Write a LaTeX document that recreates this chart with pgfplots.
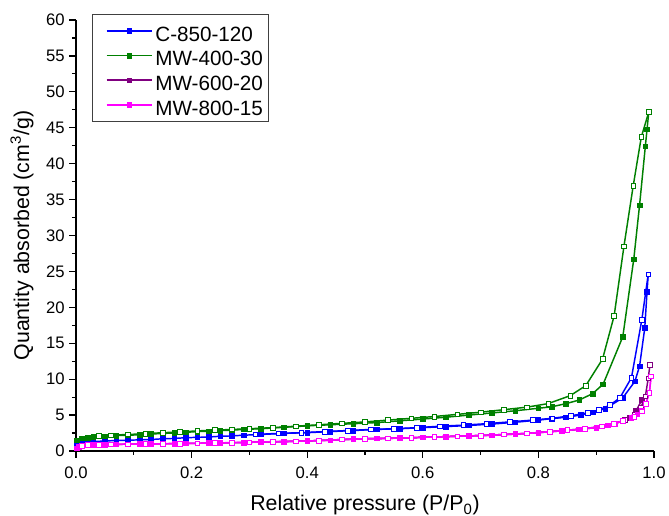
\documentclass[border=0pt]{standalone}
\usepackage{pgfplots}
\pgfplotsset{compat=1.18}
\usepackage{fontspec}
\setmainfont{Liberation Sans}
\definecolor{cblue}{RGB}{0,0,255}
\definecolor{cgreen}{RGB}{0,128,0}
\definecolor{cpurple}{RGB}{128,0,128}
\definecolor{cpink}{RGB}{255,0,255}
\begin{document}
\begin{tikzpicture}
\useasboundingbox (-57pt,-48.75pt) rectangle (444.75pt,338.25pt);
\begin{axis}[
  scale only axis,
  width=433.5pt, height=323.25pt,
  at={(0,0)}, anchor=south west,
  xmin=0, xmax=1, ymin=0, ymax=60,
  axis lines*=left,
  axis line style={line width=0.9pt},
  tick align=outside,
  tick style={line width=0.9pt, black},
  major tick length=5pt, minor tick length=3pt,
  xtick={0,0.2,0.4,0.6,0.8,1.0},
  ytick={0,5,...,60},
  minor x tick num=1, minor y tick num=1,
  xticklabel style={yshift=-3pt, /pgf/number format/.cd, fixed, fixed zerofill, precision=1, assume math mode=true},
  yticklabel style={/pgf/number format/assume math mode=true},
  ticklabel style={font=\fontsize{12.5}{14}\selectfont},
  xlabel={Relative pressure (P/P\textsubscript{0})},
  ylabel={Quantity absorbed (cm\textsuperscript{3}/g)},
  label style={font=\fontsize{16}{19}\selectfont},
  xlabel style={yshift=-6pt},
  ylabel style={yshift=2.5pt},
  every axis plot/.append style={line width=1.1pt, mark=square*, mark size=1.75pt},
  legend cell align=left,
  legend style={at={(axis description cs:0,1)}, anchor=north west, xshift=12pt, yshift=4.5pt,
    draw=black!75, line width=0.8pt, font=\fontsize{15.5}{18}\selectfont,
    inner xsep=2pt, inner ysep=3pt, row sep=0pt,
    nodes={inner xsep=2pt, inner ysep=1pt, text height=16pt, text depth=0.5pt}},
  legend image code/.code={\path (-8pt,0pt); \draw[mark repeat=2,mark phase=2,#1] plot coordinates {(0pt,0pt)(17pt,0pt)(34pt,0pt)};},
]
% C-850-120 adsorption
\addplot[color=cblue, mark options={fill=cblue, line width=0.5pt}] coordinates {
(0.001,0.8)(0.01,1.1)(0.02,1.25)(0.03,1.3)(0.05,1.4)(0.07,1.45)(0.09,1.5)(0.11,1.55)(0.13,1.6)(0.15,1.7)(0.17,1.75)(0.19,1.85)(0.21,1.9)(0.23,1.95)(0.25,2.05)(0.27,2.1)(0.29,2.2)(0.32,2.3)(0.36,2.45)(0.40,2.55)(0.44,2.7)(0.48,2.85)(0.52,3.0)(0.56,3.1)(0.60,3.25)(0.64,3.4)(0.68,3.55)(0.72,3.75)(0.76,4.0)(0.80,4.3)(0.823,4.5)(0.848,4.7)(0.873,5.0)(0.895,5.4)(0.916,5.9)(0.946,7.4)(0.967,9.7)(0.975,11.8)(0.984,17.1)(0.988,22.2)(0.990,24.6)};
\addlegendentry{C-850-120}
\addplot[color=cblue, mark options={fill=white, line width=0.5pt}, forget plot] coordinates {
(0.990,24.6)(0.979,18.3)(0.961,10.2)(0.941,7.4)(0.924,6.4)(0.904,5.7)(0.885,5.3)(0.856,4.9)(0.824,4.55)(0.79,4.3)(0.75,4.05)(0.71,3.8)(0.67,3.6)(0.63,3.45)(0.59,3.25)(0.55,3.1)(0.51,3.0)(0.47,2.85)(0.43,2.7)(0.39,2.55)(0.35,2.45)(0.31,2.3)};
% MW-400-30
\addplot[color=cgreen, mark options={fill=cgreen, line width=0.5pt}] coordinates {
(0.001,1.5)(0.01,1.75)(0.02,1.85)(0.03,1.95)(0.05,2.05)(0.07,2.15)(0.09,2.2)(0.11,2.25)(0.13,2.35)(0.15,2.45)(0.17,2.5)(0.19,2.6)(0.21,2.7)(0.23,2.75)(0.25,2.85)(0.27,2.9)(0.29,3.0)(0.32,3.1)(0.36,3.3)(0.40,3.5)(0.44,3.65)(0.48,3.8)(0.52,3.95)(0.56,4.2)(0.60,4.45)(0.64,4.7)(0.68,5.0)(0.72,5.3)(0.76,5.6)(0.80,5.95)(0.823,6.15)(0.848,6.6)(0.871,7.1)(0.894,8.0)(0.912,9.3)(0.946,15.9)(0.965,26.7)(0.975,34.2)(0.985,42.4)(0.988,44.8)(0.991,47.2)};
\addlegendentry{MW-400-30}
\addplot[color=cgreen, mark options={fill=white, line width=0.5pt}, forget plot] coordinates {
(0.991,47.2)(0.978,43.7)(0.964,36.9)(0.948,28.5)(0.931,18.8)(0.911,12.8)(0.882,9.1)(0.855,7.7)(0.817,6.6)(0.78,6.1)(0.74,5.75)(0.70,5.4)(0.66,5.1)(0.62,4.8)(0.58,4.55)(0.54,4.3)(0.50,4.05)(0.46,3.85)(0.42,3.65)(0.38,3.45)(0.34,3.25)(0.30,3.1)(0.27,3.0)(0.24,2.9)(0.21,2.8)(0.18,2.65)(0.15,2.55)(0.12,2.4)(0.09,2.3)(0.06,2.2)(0.04,2.1)};
% MW-600-20
\addplot[color=cpurple, mark options={fill=cpurple, line width=0.5pt}] coordinates {
(0.001,0.35)(0.005,0.55)(0.01,0.7)(0.02,0.8)(0.03,0.85)(0.05,0.9)(0.07,0.92)(0.09,0.95)(0.11,0.97)(0.13,1.0)(0.15,1.0)(0.17,1.02)(0.19,1.05)(0.21,1.07)(0.23,1.1)(0.25,1.12)(0.27,1.15)(0.29,1.18)(0.32,1.25)(0.36,1.3)(0.40,1.4)(0.44,1.5)(0.48,1.65)(0.52,1.75)(0.56,1.8)(0.60,1.9)(0.64,2.0)(0.68,2.1)(0.72,2.2)(0.76,2.35)(0.80,2.55)(0.84,2.8)(0.87,3.0)(0.90,3.25)(0.92,3.55)(0.933,3.8)(0.946,4.2)(0.958,4.6)(0.969,5.6)(0.979,7.1)};
\addlegendentry{MW-600-20}
\addplot[color=cpurple, mark options={fill=white, line width=0.5pt}, forget plot] coordinates {
(0.993,12.0)(0.990,10.1)(0.985,7.6)(0.977,6.0)(0.966,5.0)(0.950,4.3)(0.93,3.8)(0.91,3.45)(0.88,3.1)(0.85,2.9)(0.82,2.7)(0.78,2.45)(0.74,2.3)(0.70,2.15)(0.66,2.05)(0.62,1.95)(0.58,1.85)(0.54,1.75)(0.50,1.7)(0.46,1.6)(0.42,1.45)(0.38,1.35)(0.34,1.3)(0.30,1.2)};
% MW-800-15
\addplot[color=cpink, mark options={fill=cpink, line width=0.5pt}] coordinates {
(0.001,0.35)(0.005,0.55)(0.01,0.7)(0.02,0.8)(0.03,0.85)(0.05,0.9)(0.07,0.92)(0.09,0.95)(0.11,0.97)(0.13,1.0)(0.15,1.0)(0.17,1.02)(0.19,1.05)(0.21,1.07)(0.23,1.1)(0.25,1.12)(0.27,1.15)(0.29,1.18)(0.32,1.25)(0.36,1.3)(0.40,1.4)(0.44,1.5)(0.48,1.65)(0.52,1.75)(0.56,1.8)(0.60,1.9)(0.64,2.0)(0.68,2.1)(0.72,2.2)(0.76,2.35)(0.80,2.55)(0.84,2.8)(0.87,3.0)(0.90,3.25)(0.92,3.55)(0.933,3.8)(0.946,4.2)(0.961,4.6)(0.971,5.1)(0.979,5.6)(0.986,6.6)(0.992,8.1)(0.995,10.4)};
\addlegendentry{MW-800-15}
\addplot[color=cpink, mark options={fill=white, line width=0.5pt}, forget plot] coordinates {
(0.995,10.4)(0.992,8.1)(0.986,6.6)(0.979,5.5)(0.966,4.8)(0.946,4.2)(0.93,3.8)(0.91,3.45)(0.88,3.1)(0.85,2.9)(0.82,2.7)(0.78,2.45)(0.74,2.3)(0.70,2.15)(0.66,2.05)(0.62,1.95)(0.58,1.85)(0.54,1.75)(0.50,1.7)(0.46,1.6)(0.42,1.45)(0.38,1.35)(0.34,1.3)(0.30,1.22)(0.27,1.17)(0.24,1.12)(0.21,1.08)(0.18,1.04)(0.15,1.01)(0.12,0.98)(0.09,0.95)(0.06,0.92)(0.04,0.88)(0.02,0.82)(0.01,0.72)};
\end{axis}
\end{tikzpicture}
\end{document}
